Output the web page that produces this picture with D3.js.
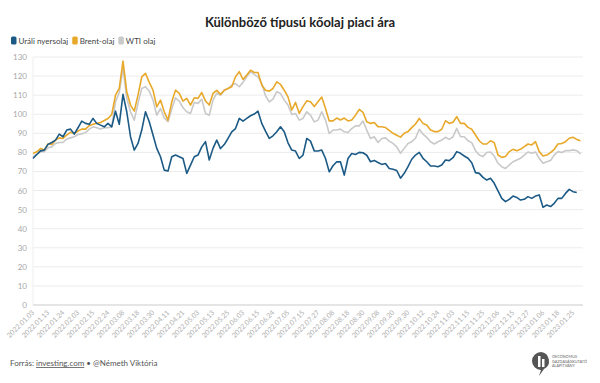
<!DOCTYPE html>
<html><head><meta charset="utf-8">
<script src="https://cdn.jsdelivr.net/npm/d3@7/dist/d3.min.js"></script>
<style>
body{margin:0;background:#fff;font-family:Lato,"Open Sans",sans-serif;}
svg text{font-family:Lato,"Open Sans",sans-serif;}
</style></head><body>
<svg id="c" width="600" height="383"></svg>
<script>
const tickLabels = ["2022.01.03","2022.01.13","2022.01.24","2022.02.03","2022.02.15","2022.02.24","2022.03.08","2022.03.18","2022.03.30","2022.04.11","2022.04.21","2022.05.03","2022.05.13","2022.05.25","2022.06.03","2022.06.15","2022.06.24","2022.07.05","2022.07.15","2022.07.27","2022.08.08","2022.08.18","2022.08.30","2022.09.08","2022.09.20","2022.09.30","2022.10.12","2022.10.24","2022.11.03","2022.11.15","2022.11.25","2022.12.06","2022.12.15","2022.12.27","2023.01.06","2023.01.18","2023.01.25"];
const samplesPerTick = 4;
const yTicks = [0,10,20,30,40,50,60,70,80,90,100,110,120,130];

const urals = [76.8,78.9,80.8,81.2,84.2,85.2,86.4,89.6,88.2,91.7,
92.2,89.6,92.9,96.4,95.2,94.7,97.8,95.2,94.3,93.4,
95.2,93.4,101.6,94.7,110.4,101.3,88.2,81.2,84.7,91.7,
101.3,96.1,89.1,82.1,77.7,70.7,70.2,77.7,78.6,77.7,
76.8,69.0,73.3,77.7,78.6,82.9,85.6,76.0,82.1,86.4,
82.0,84.1,87.3,90.8,92.5,97.8,96.4,97.8,99.2,100.1,
101.6,95.2,91.1,87.3,88.7,90.8,93.4,90.8,85.0,81.2,
80.7,76.8,78.6,87.3,85.9,80.8,80.7,81.2,76.8,69.8,
73.0,75.1,75.0,68.1,76.8,79.4,78.9,80.0,79.8,78.5,
75.1,75.8,74.7,73.7,74.2,71.6,71.2,70.5,66.5,69.0,
72.5,76.4,78.6,80.0,76.9,75.1,72.9,72.9,72.5,73.4,
76.0,75.7,77.2,80.4,79.5,78.1,76.9,74.6,69.4,69.0,
66.9,65.5,66.4,63.8,59.8,55.9,54.2,55.4,57.1,56.4,
55.0,55.4,56.8,55.9,57.1,57.7,51.2,52.4,51.6,53.3,
55.9,55.9,58.5,60.6,59.4,59.0,null];

const brent = [79.4,80.3,82.0,81.2,84.5,84.2,86.4,87.6,87.3,89.1,
90.5,89.9,91.2,92.2,92.2,94.0,94.7,95.2,95.7,96.7,
97.8,99.9,110.0,113.5,127.9,111.8,104.8,101.6,110.0,119.6,
121.4,116.7,112.6,103.9,107.4,101.3,96.9,106.5,112.6,110.9,
106.9,108.3,104.8,108.6,108.3,111.4,106.9,104.8,110.9,112.5,
110.4,112.6,113.5,114.4,119.6,122.3,118.2,120.5,123.1,121.9,
121.9,115.3,112.6,112.1,113.5,117.0,115.6,112.6,109.1,102.2,
106.2,100.5,104.0,107.0,106.5,104.0,106.5,109.0,103.0,96.5,
96.5,98.0,97.0,98.0,96.5,97.0,99.5,102.5,101.0,96.0,
95.2,95.7,93.5,93.4,93.0,91.5,90.0,89.0,88.0,90.0,
90.9,93.0,94.9,97.8,95.2,94.4,91.7,90.9,90.9,92.1,
96.6,95.2,95.8,98.7,95.2,95.2,93.1,92.1,89.1,86.1,
84.4,84.4,86.1,85.1,78.6,77.4,77.8,80.4,81.6,80.9,
81.6,83.0,84.4,83.9,85.6,80.4,78.1,78.6,79.9,81.6,
84.4,84.7,85.6,87.4,87.9,86.8,86.1];

const wti = [77.7,78.9,80.3,80.3,82.4,82.9,84.7,85.2,85.2,87.0,
87.6,88.2,89.4,89.7,90.4,92.2,93.4,92.9,92.2,92.9,
92.9,93.4,106.5,111.4,124.0,108.3,101.3,96.9,105.7,113.5,
114.4,112.1,107.4,99.5,103.0,98.1,96.1,102.7,108.6,106.9,
103.4,101.3,100.4,106.2,105.7,107.9,100.4,99.5,107.4,111.0,
110.0,112.6,113.5,115.3,116.1,114.4,116.7,119.6,122.3,120.9,
119.6,116.1,109.7,106.5,107.9,111.8,110.9,107.4,104.8,99.9,
100.4,96.9,97.8,101.3,99.5,96.0,96.9,101.3,96.9,89.9,
91.7,91.7,92.2,90.8,90.4,92.5,93.9,93.9,96.4,91.7,
87.3,88.2,85.2,87.3,87.6,85.9,84.7,82.9,79.5,82.1,
84.7,85.6,87.4,92.1,89.6,87.9,85.6,84.4,85.6,86.5,
87.9,86.8,88.2,92.6,88.2,88.2,86.1,85.1,80.9,78.6,
77.8,79.9,80.2,78.1,74.3,72.5,71.6,73.4,75.1,76.0,
76.9,78.6,80.2,79.5,80.2,76.9,74.3,75.1,75.7,78.6,
80.4,79.9,80.9,80.9,81.3,80.9,79.2];

const seriesNames = ["Uráli nyersolaj","Brent-olaj","WTI olaj"];
const seriesColors = ["#1c5a86","#e8a82a","#c9c9c9"];

const svg = d3.select("#c");
const W = 600;
const n = brent.length;
const x = d3.scaleLinear().domain([0, n-1]).range([33, 580.5]);
const y = d3.scaleLinear().domain([0,130]).range([305,57]);

// title
svg.append("text").attr("x", W/2).attr("y", 27).attr("text-anchor","middle")
  .attr("font-size", 13).attr("font-weight", 700).attr("fill","#222")
  .text("Különböző típusú kőolaj piaci ára");

// legend
let lx = 11;
seriesNames.forEach((nm,i)=>{
  svg.append("rect").attr("x", lx).attr("y", 36.5).attr("width", 5.5).attr("height", 8).attr("rx",1.5)
    .attr("fill", seriesColors[i]);
  const t = svg.append("text").attr("x", lx+7.5).attr("y", 44).attr("font-size", 8).attr("fill","#444").text(nm);
  lx += 7.5 + t.node().getComputedTextLength() + 4;
});

// y grid + labels
const gy = svg.append("g");
gy.append("line").attr("x1",33).attr("x2",33).attr("y1",y(130)).attr("y2",y(0))
  .attr("stroke","#efefef").attr("stroke-width",1);
yTicks.forEach(v=>{
  gy.append("line").attr("x1",33).attr("x2",583).attr("y1",y(v)).attr("y2",y(v))
    .attr("stroke", v===0 ? "#dcdcdc" : "#ececec").attr("stroke-width", v===0?1.5:1);
  gy.append("text").attr("x",27).attr("y",y(v)+3).attr("text-anchor","end")
    .attr("font-size",8).attr("fill","#a8a8a8").text(v);
});

// x labels
const gx = svg.append("g");
tickLabels.forEach((lab,i)=>{
  const px = x(i*samplesPerTick);
  gx.append("text").attr("transform",`translate(${px+2},${313}) rotate(-45)`)
    .attr("text-anchor","end").attr("font-size",7).attr("fill","#b0b0b0").text(lab);
});

// lines
const line = d3.line().defined(d=>d!=null).x((d,i)=>x(i)).y(d=>y(d)).curve(d3.curveLinear);
[wti, brent, urals].forEach((s,k)=>{
  const idx = [2,1,0][k];
  svg.append("path").datum(s).attr("d", line).attr("fill","none")
    .attr("stroke", seriesColors[idx]).attr("stroke-width", 1.6).attr("stroke-linejoin","round");
});

// footer
const ft = svg.append("text").attr("x",10).attr("y",366).attr("font-size",8).attr("fill","#555");
ft.append("tspan").text("Forrás: ");
ft.append("tspan").attr("text-decoration","underline").text("investing.com");
ft.append("tspan").text(" • @Németh Viktória");

// logo
const lg = svg.append("g").attr("transform","translate(532,352)");
lg.append("path").attr("d","M9,0 A9,9 0 1 0 9,18 L7,24 L12,17 A9,9 0 0 0 9,0 Z").attr("fill","#555");
lg.append("rect").attr("x",6).attr("y",4).attr("width",2.5).attr("height",11).attr("fill","#fff");
lg.append("rect").attr("x",10).attr("y",7).attr("width",2.5).attr("height",8).attr("fill","#fff");
["OECONOMUS","GAZDASÁGKUTATÓ","ALAPÍTVÁNY"].forEach((t,i)=>{
  lg.append("text").attr("x",20).attr("y",6+i*4.5).attr("font-size",3.8).attr("fill","#666").text(t);
});
</script>
</body></html>
